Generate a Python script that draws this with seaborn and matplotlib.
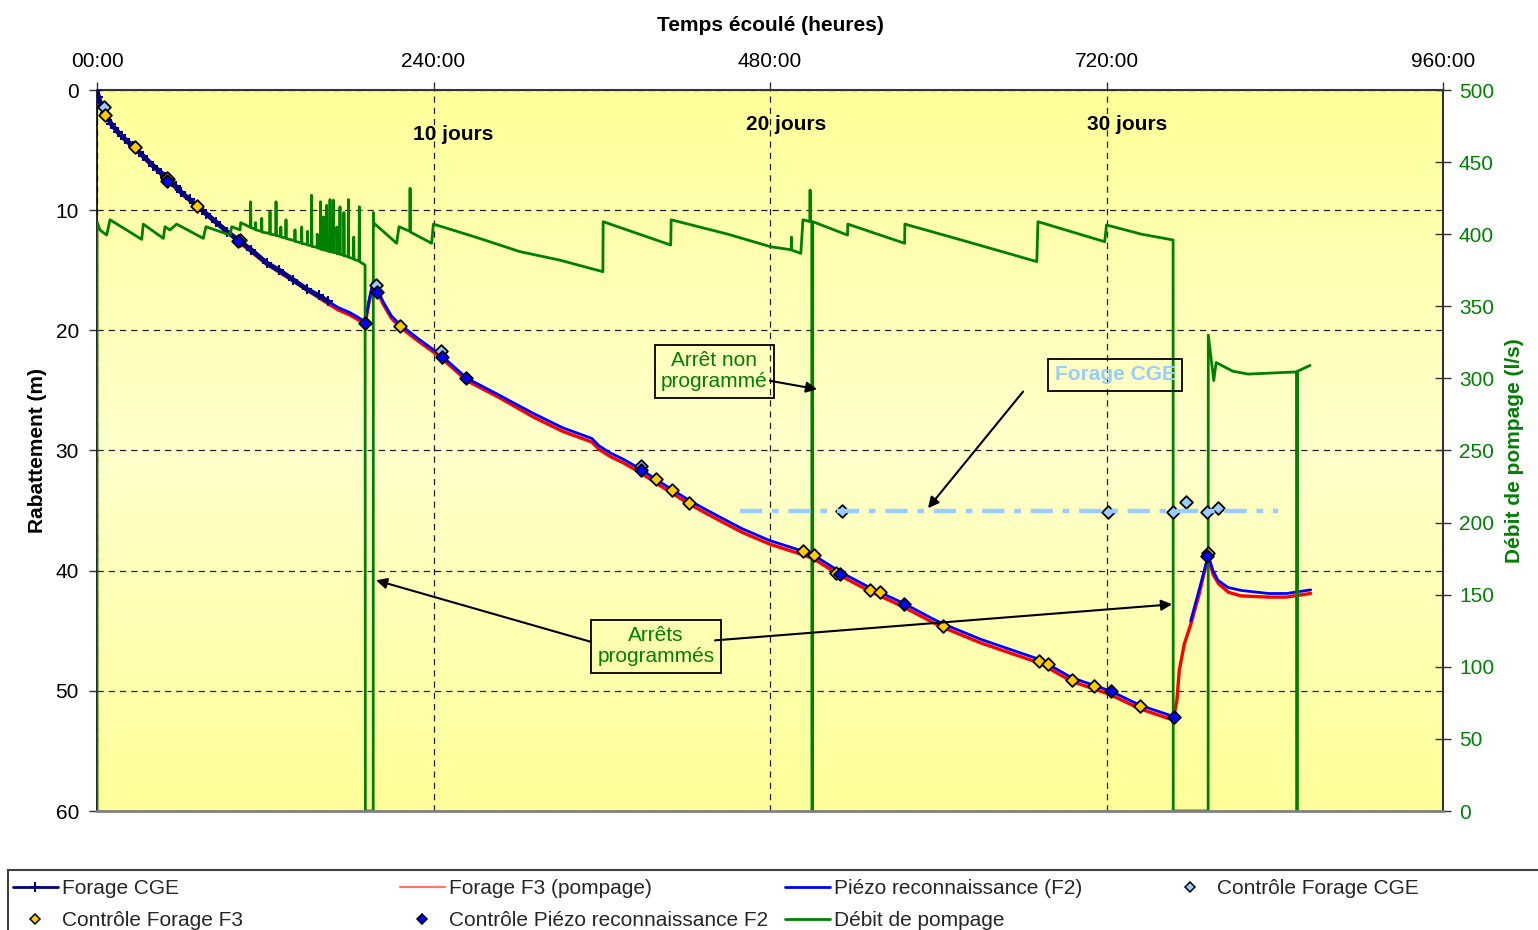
import numpy as np
import seaborn as sns
import matplotlib.pyplot as plt
from matplotlib.colors import LinearSegmentedColormap
from matplotlib.lines import Line2D
from matplotlib.patches import Rectangle

sns.set_theme(style='ticks')
plt.rcParams['font.family'] = ['Liberation Sans', 'DejaVu Sans']
plt.rcParams['font.size'] = 15

# %% data
hours = [0, 240, 480, 720, 960]
hour_labels = ['00:00', '240:00', '480:00', '720:00', '960:00']

# Forage CGE (m)
cge_t = [0, 1, 3, 5.7, 10, 15, 20, 25.9, 33, 40, 46, 50.9, 56, 60, 66, 71.1, 78, 85, 93,
         100.8, 110, 121, 130, 140, 150, 158, 165]
cge_d = [0.0, 0.6, 1.3, 1.9, 2.8, 3.5, 4.1, 4.7, 5.5, 6.3, 6.9, 7.5, 8.0, 8.5, 9.1, 9.6, 10.3,
         11.0, 11.8, 12.5, 13.3, 14.4, 15.0, 15.8, 16.6, 17.1, 17.6]

# Forage F3 (pompage)
f3_t = [0, 5.7, 15, 25.9, 40, 50.9, 60, 71.1, 85, 100.8, 121, 140, 165, 172, 180, 186, 191.2,
        194, 197, 199, 204, 210, 216, 228, 244.6, 264, 287, 311, 332, 353, 358, 366, 375, 387,
        400, 423, 442, 460, 480, 501.4, 511, 530, 551, 575, 596, 603, 630, 650, 672.6, 695,
        722.5, 744, 766.8, 767.2, 770.2, 771.9, 775.5, 780.3, 786, 792.4, 796, 800, 807, 816,
        836, 848, 865.6]
f3_d = [0.0, 2.0, 3.6, 4.8, 6.4, 7.6, 8.6, 9.7, 11.1, 12.6, 14.5, 15.9, 17.8, 18.3, 18.7, 19.1,
        19.5, 17.7, 16.1, 16.5, 17.8, 19.0, 19.7, 20.8, 22.2, 24.2, 25.6, 27.2, 28.4, 29.3, 29.9,
        30.5, 31.0, 31.8, 32.8, 34.5, 35.7, 36.8, 37.8, 38.6, 39.0, 40.4, 41.7, 43.0, 44.3, 44.7,
        46.0, 46.8, 47.7, 49.2, 50.3, 51.5, 52.4, 52.6, 50.8, 48.3, 46.1, 44.4, 42.0, 38.8, 40.3,
        41.1, 41.8, 42.1, 42.2, 42.2, 41.9]

# Piezo reconnaissance (F2), two pieces
f2_t1 = [0, 2, 5.7, 10, 15, 20, 25.9, 33, 40, 46, 50.9, 56, 60, 66, 71.1, 78, 85, 93, 100.8,
         110, 121, 130, 140, 150, 158, 165, 172, 180, 186, 191.2, 194, 197, 199, 204, 210, 216,
         228, 244.6, 264, 287, 311, 332, 353, 358, 366, 375, 387, 400, 423, 442, 460, 480,
         501.4, 511, 530, 551, 575, 596, 603, 630, 650, 672.6, 695, 722.5, 744, 766.8]
f2_d1 = [0.0, 0.9, 1.9, 2.8, 3.5, 4.1, 4.7, 5.5, 6.3, 6.9, 7.5, 8.0, 8.5, 9.1, 9.6, 10.3, 11.0,
         11.8, 12.5, 13.3, 14.4, 15.0, 15.8, 16.6, 17.1, 17.6, 18.1, 18.5, 18.9, 19.3, 17.5, 15.9,
         16.3, 17.6, 18.8, 19.5, 20.6, 22.0, 24.0, 25.4, 26.9, 28.1, 29.0, 29.6, 30.2, 30.7,
         31.5, 32.5, 34.2, 35.4, 36.5, 37.5, 38.3, 38.7, 40.1, 41.4, 42.7, 44.0, 44.4, 45.7,
         46.5, 47.4, 48.9, 50.0, 51.2, 52.1]
f2_t2 = [780, 792.3, 793, 796, 799.5, 806.7, 816.3, 835.6, 848.3, 865.6]
f2_d2 = [44.2, 38.9, 38.9, 40.0, 40.8, 41.4, 41.65, 41.9, 41.9, 41.6]

# controles
ctrl_cge_t = [5, 50.6, 102, 199, 245.4, 388, 531.4, 721, 767.5, 776.8, 791.7, 799.6]
ctrl_cge_d = [1.4, 7.4, 12.5, 16.2, 21.7, 31.3, 35.05, 35.15, 35.1, 34.3, 35.1, 34.8]
ctrl_f3_t = [5.7, 27.1, 49.9, 71.3, 216.1, 398.7, 410, 422.3, 503.6, 511.4, 527, 551, 558.5,
             603.4, 672, 678, 695.4, 711, 744, 792.4]
ctrl_f3_d = [2.1, 4.74, 7.3, 9.65, 19.6, 32.4, 33.3, 34.4, 38.4, 38.7, 40.2, 41.6, 41.8, 44.6,
             47.5, 47.8, 49.1, 49.6, 51.3, 38.5]
ctrl_f2_t = [49.9, 100.6, 191.2, 199.7, 246, 263.2, 388, 530, 575.6, 723.2, 768.2, 791.7]
ctrl_f2_d = [7.6, 12.6, 19.4, 16.8, 22.2, 24.0, 31.6, 40.3, 42.8, 50.0, 52.2, 38.8]

# niveau Forage CGE (trait mixte)
cge_ref_t = [458.6, 842]
cge_ref_d = [35, 35]

# Debit de pompage (l/s)
debit_t = [0, 0, 2.1, 6.9, 9.3, 31.9, 33, 47.3, 48.5, 52, 56.8, 75.8, 77.7, 94.9, 96.1, 102,
           102.5, 109.4, 109.6, 109.8, 113, 113.1, 113.3, 117.3, 117.5, 117.7, 123.2, 123.4,
           123.6, 127.5, 127.7, 127.9, 131, 131.1, 131.3, 134.6, 134.8, 135, 141, 141.2, 141.4,
           145.8, 146, 146.2, 150, 150.1, 150.3, 152.9, 153.1, 153.3, 157, 157.1, 157.3, 159.3,
           159.5, 159.7, 161.5, 161.6, 161.8, 163.6, 163.8, 164, 166, 166.2, 166.4, 168.4,
           168.6, 168.8, 171, 171.1, 171.3, 173.1, 173.3, 173.5, 176, 176.1, 176.3, 179.1,
           179.3, 179.5, 183, 183.1, 183.3, 186.9, 187.1, 187.3, 191.2, 191.4, 197, 197.1,
           197.6, 198.3, 213.7, 215.4, 223.1, 223.3, 223.5, 238.7, 239.9, 270, 301.7, 330.2,
           360.8, 361, 409.2, 409.5, 450, 480.5, 495.1, 495.3, 495.5, 502, 503.5, 508.4, 508.6,
           508.8, 509.8, 509.9, 510.4, 510.5, 535.3, 535.5, 576, 576.2, 620, 670.3, 671.1,
           718.7, 720, 745, 767.5, 767.6, 792.5, 792.6, 796.5, 798.2, 810, 821, 855.5, 855.6,
           856.2, 856.3, 865.2]
debit_q = [0, 408.7, 402.9, 399.4, 410, 396.4, 407, 397.1, 405.2, 402.9, 407, 397.1, 405.2,
           399.4, 405.2, 403, 408, 404.8, 422.5, 404.5, 403.5, 408, 403, 402, 411, 401.5, 400.5,
           415.6, 400, 399.5, 422.5, 399, 398.5, 405, 398, 397.5, 410, 397, 395.5, 403, 395, 394,
           405, 393.5, 393, 402, 392.5, 392, 427, 391.5, 391, 400, 390.5, 390, 422.5, 389.5,
           389.5, 412, 389, 389, 420, 388.5, 388, 424, 388, 387.5, 423.7, 387.5, 387, 405, 386.5,
           386.5, 419, 386, 385.5, 415, 385, 384.5, 424, 384, 383, 398, 382.5, 381.5, 419, 381,
           378.6, 0, 0, 415, 405.5, 407, 393.7, 405.2, 402, 431.8, 401.5, 393.7, 407, 398, 387.9,
           382, 374, 408.7, 392.5, 410, 400, 391.3, 389.2, 398, 389, 386.7, 410, 408.8, 430.6,
           408.8, 408.5, 0, 0, 408.7, 399.4, 407, 393.7, 407, 395, 381, 408.7, 394.8, 406.4, 400,
           396, 0, 0, 330, 298.5, 311, 305, 303, 304.5, 0, 0, 305, 309]

GREEN = '#008000'
CGE_BLUE = '#99CCFF'
NAVY = '#000080'

# %% figure
fig = plt.figure(figsize=(15.38, 9.3), dpi=100)
fig.patch.set_facecolor('white')
ax = fig.add_axes([97 / 1538, 1 - 811 / 930, 1346 / 1538, 721 / 930])
ax_q = ax.twinx()
ax_m = ax.twinx()
ax.set_zorder(1)
ax_q.set_zorder(2)
ax_m.set_zorder(3)

# fond degrade
cmap = LinearSegmentedColormap.from_list('fond', ['#FFFF99', '#FFFFCC', '#FFFF99'])
ax.imshow(np.linspace(0, 1, 256).reshape(-1, 1), cmap=cmap, aspect='auto',
          extent=[0, 1, 0, 1], transform=ax.transAxes, zorder=0)

# courbes rabattement
sns.lineplot(x=f3_t, y=f3_d, ax=ax, color='#FF0000', lw=2.4, estimator=None, sort=False,
             legend=False, zorder=2)
sns.lineplot(x=f2_t1, y=f2_d1, ax=ax, color='#0000FF', lw=2, estimator=None, sort=False,
             legend=False, zorder=3)
sns.lineplot(x=f2_t2, y=f2_d2, ax=ax, color='#0000FF', lw=2, estimator=None, sort=False,
             legend=False, zorder=3)
sns.lineplot(x=cge_t, y=cge_d, ax=ax, color=NAVY, lw=3.5, marker='+', markersize=7,
             markeredgewidth=1.5, markeredgecolor=NAVY, estimator=None, sort=False,
             legend=False, zorder=4)

# debit
sns.lineplot(x=debit_t, y=debit_q, ax=ax_q, color=GREEN, lw=2, estimator=None, sort=False,
             legend=False)

# points de controle
for tt, dd, fc in [(ctrl_cge_t, ctrl_cge_d, CGE_BLUE), (ctrl_f3_t, ctrl_f3_d, '#FFCC00'),
                   (ctrl_f2_t, ctrl_f2_d, '#0000FF')]:
    sns.scatterplot(x=tt, y=dd, ax=ax_m, marker='D', s=42, color=fc, edgecolor='black',
                    linewidth=1.3, legend=False, zorder=3)

sns.lineplot(x=cge_ref_t, y=cge_ref_d, ax=ax_m, color=CGE_BLUE, lw=3.2, dashes=False,
             estimator=None, legend=False, zorder=4)
ax_m.lines[-1].set_dashes((5, 2.2, 1.5, 2.2))

# axes
for a in (ax, ax_m):
    a.set_xlim(0, 960)
    a.set_ylim(60, 0)
ax_q.set_ylim(0, 500)

ax.xaxis.tick_top()
ax.xaxis.set_label_position('top')
ax.set_xticks(hours, labels=hour_labels)
ax.set_yticks(range(0, 61, 10))
ax.tick_params(axis='both', direction='out', length=6, width=1, color='#333333',
               labelsize=15, labelcolor='black', pad=7)
ax.tick_params(axis='x', pad=8)
ax.set_xlabel('Temps écoulé (heures)', fontsize=15, fontweight='bold', color='black',
              labelpad=15)
ax.set_ylabel('Rabattement (m)', fontsize=15, fontweight='bold', color='black', labelpad=6)
ax.grid(True, color='#222222', linestyle=(0, (5, 4)), lw=0.9)
ax.set_axisbelow(True)

ax_q.set_yticks(range(0, 501, 50))
ax_q.tick_params(axis='y', direction='inout', length=11, width=1, color='#333333',
                 labelsize=15, labelcolor=GREEN, pad=6)
ax_q.set_ylabel('Débit de pompage (l/s)', fontsize=15, fontweight='bold', color=GREEN,
                labelpad=8)
ax_q.grid(False)

ax_m.yaxis.set_visible(False)
ax_m.grid(False)
for s in ('left', 'top', 'right'):
    ax_m.spines[s].set_visible(False)
ax_m.spines['bottom'].set_color('#808080')
ax_m.spines['bottom'].set_linewidth(2)
for s in ('left', 'top', 'bottom'):
    ax_q.spines[s].set_visible(False)
ax_q.spines['right'].set_color('#333333')
ax_q.spines['right'].set_linewidth(1.5)
ax.spines['right'].set_visible(False)
ax.spines['bottom'].set_visible(False)
ax.spines['top'].set_color('#333333')
ax.spines['top'].set_linewidth(1.5)
ax.spines['left'].set_color('black')
ax.spines['left'].set_linewidth(1.2)

# textes
for tx, ty, lab in [(254, 3.7, '10 jours'), (491.4, 2.9, '20 jours'), (734.7, 2.9, '30 jours')]:
    ax_m.text(tx, ty, lab, ha='center', va='center', fontsize=15, fontweight='bold',
              color='black')

box = dict(boxstyle='square,pad=0.3', fc='none', ec='black', lw=1.3)
ax_m.text(440.4, 23.4, 'Arrêt non\nprogrammé', ha='center', va='center', fontsize=15,
          color=GREEN, bbox=box, linespacing=1.15)
ax_m.text(398.7, 46.3, 'Arrêts\nprogrammés', ha='center', va='center', fontsize=15,
          color=GREEN, bbox=box, linespacing=1.15)
ax_m.text(726.1, 23.7, 'Forage CGE', ha='center', va='center', fontsize=15,
          fontweight='bold', color=CGE_BLUE, bbox=box)

arrow = dict(arrowstyle='-|>', color='black', lw=1.5, shrinkA=0, shrinkB=0,
             mutation_scale=16)
for src, dst in [((480, 24.2), (513.6, 24.9)), ((351.6, 45.9), (199, 40.8)),
                 ((440.8, 45.8), (766.8, 42.8)), ((660.5, 25.1), (592.7, 34.8))]:
    ax_m.annotate('', xy=dst, xytext=src, arrowprops=arrow)

# legende
fig.add_artist(Rectangle((8 / 1538, -0.1), 1.2, 0.1 + 60 / 930, transform=fig.transFigure,
                         fill=False, ec='#404040', lw=1.5))


def mk(fc):
    return Line2D([], [], ls='none', marker='D', ms=5.5, mfc=fc, mec='black', mew=1.1)


cols = [
    (13, [Line2D([], [], color=NAVY, lw=2, marker='+', ms=7, mew=1.5), mk('#FFCC00')],
     ['Forage CGE', 'Contrôle Forage F3']),
    (400, [Line2D([], [], color='#FF7070', lw=1.5), mk('#0000FF')],
     ['Forage F3 (pompage)', 'Contrôle Piézo reconnaissance F2']),
    (785, [Line2D([], [], color='#0000FF', lw=2), Line2D([], [], color=GREEN, lw=2)],
     ['Piézo reconnaissance (F2)', 'Débit de pompage']),
    (1168, [mk(CGE_BLUE)], ['Contrôle Forage CGE']),
]
for x0, hh, ll in cols:
    fig.legend(hh, ll, loc='upper left', bbox_to_anchor=(x0 / 1538, 1 - 879 / 930),
               frameon=False, fontsize=15, handlelength=2.15, handletextpad=0.2,
               labelspacing=0.62, borderpad=0, borderaxespad=0)

fig.savefig('out.png', dpi=100)
